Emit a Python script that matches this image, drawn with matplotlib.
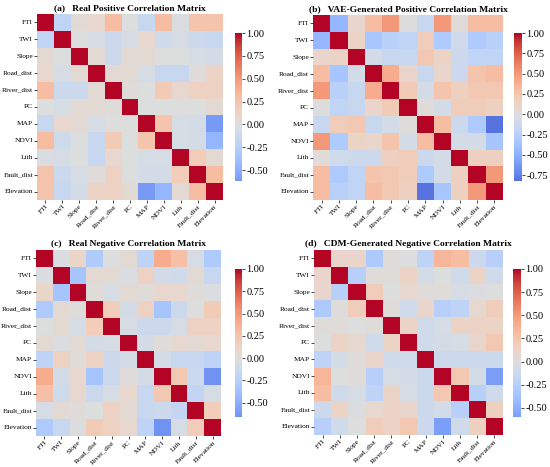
import numpy as np
import matplotlib
matplotlib.use("Agg")
import matplotlib.pyplot as plt
import seaborn as sns

plt.rcParams['font.family'] = ['Liberation Serif', 'DejaVu Serif']

labels = ["FTI", "TWI", "Slope", "Road_dist", "River_dist", "PC", "MAP",
          "NDVI", "Lith", "Fault_dist", "Elevation"]

# upper triangles, row by row (diagonal = 1)
real_pos = [
    [-0.20, 0.05, 0.08, 0.30, 0.00, -0.15, 0.30, -0.03, 0.25, 0.25],
    [0.00, -0.05, -0.12, -0.05, 0.08, -0.10, -0.05, -0.12, -0.15],
    [0.05, -0.12, 0.05, 0.06, 0.00, 0.00, -0.05, -0.07],
    [0.05, 0.05, -0.05, -0.15, -0.15, 0.02, 0.13],
    [0.02, 0.00, 0.20, 0.08, 0.14, 0.14],
    [0.00, 0.00, 0.00, 0.00, 0.05],
    [0.25, -0.05, -0.07, -0.62],
    [-0.05, -0.07, -0.45],
    [0.18, 0.05],
    [0.30],
]
vae_pos = [
    [-0.45, 0.10, 0.30, 0.50, 0.00, -0.15, 0.50, 0.03, 0.30, 0.30],
    [0.12, -0.35, -0.25, -0.20, 0.18, -0.30, -0.10, -0.30, -0.25],
    [-0.08, -0.15, -0.15, 0.22, 0.12, -0.12, -0.20, -0.20],
    [0.40, 0.10, -0.15, 0.10, -0.12, 0.25, 0.30],
    [0.20, -0.08, 0.25, 0.15, 0.22, 0.22],
    [0.02, -0.07, 0.18, 0.18, 0.15],
    [0.30, -0.12, -0.30, -0.82],
    [-0.08, -0.08, -0.35],
    [0.15, 0.15],
    [0.50],
]
real_neg = [
    [-0.02, 0.10, -0.30, 0.00, 0.05, -0.20, 0.40, 0.28, -0.05, -0.30],
    [-0.35, 0.05, 0.05, -0.03, 0.15, -0.07, -0.10, 0.05, -0.15],
    [0.02, -0.05, 0.05, 0.02, 0.08, 0.08, 0.02, -0.02],
    [0.18, -0.07, 0.15, -0.35, -0.12, 0.00, 0.20],
    [-0.05, -0.12, -0.12, -0.05, 0.15, 0.15],
    [-0.07, 0.02, 0.08, 0.05, 0.08],
    [-0.07, -0.15, -0.15, -0.20],
    [0.22, -0.12, -0.66],
    [-0.18, -0.05],
    [0.18],
]
cdm_neg = [
    [0.10, 0.10, -0.30, 0.02, 0.00, -0.20, 0.35, 0.30, -0.12, -0.25],
    [-0.25, 0.02, 0.02, 0.12, -0.07, 0.00, -0.10, 0.12, -0.10],
    [0.18, 0.00, 0.08, 0.02, 0.02, -0.05, -0.02, 0.00],
    [0.02, -0.10, 0.10, -0.25, -0.20, 0.08, 0.18],
    [0.12, -0.10, -0.05, 0.12, 0.12, 0.12],
    [-0.10, -0.07, -0.05, 0.10, 0.22],
    [-0.12, -0.12, -0.12, -0.12],
    [0.22, -0.07, -0.60],
    [-0.25, -0.10],
    [0.15],
]

titles = ["(a)   Real Positive Correlation Matrix",
          "(b)   VAE-Generated Positive Correlation Matrix",
          "(c)   Real Negative Correlation Matrix",
          "(d)   CDM-Generated Negative Correlation Matrix"]


def full(tri):
    n = len(tri) + 1
    m = np.eye(n)
    for i, row in enumerate(tri):
        for k, v in enumerate(row):
            m[i, i + 1 + k] = v
            m[i + 1 + k, i] = v
    return m


W, H = 550, 467
fig = plt.figure(figsize=(5.5, 4.67), dpi=100)

# pixel boxes: heatmap (x0, y0, x1, y1), colorbar (x0, y0, x1, y1)
boxes = [
    ((37, 14, 223, 200), (235, 33, 242, 181)),
    ((313, 15, 503, 200), (514, 33, 522, 181)),
    ((36, 250, 221, 436), (235, 269, 242, 417)),
    ((314, 250, 503, 435), (513, 269, 521, 417)),
]


def px(b):
    x0, y0, x1, y1 = b
    return [x0 / W, 1 - y1 / H, (x1 - x0) / W, (y1 - y0) / H]


for tri, title, (hb, cb) in zip([real_pos, vae_pos, real_neg, cdm_neg], titles, boxes):
    ax = fig.add_axes(px(hb))
    cax = fig.add_axes(px(cb))
    sns.heatmap(full(tri), ax=ax, cbar_ax=cax, cmap="coolwarm", center=0,
                xticklabels=labels, yticklabels=labels, square=False)
    ax.set_title(title, fontsize=6.8, fontweight="bold", pad=3)
    ax.tick_params(axis="both", labelsize=5.3, length=2, width=0.5, pad=0.8)
    plt.setp(ax.get_xticklabels(), rotation=45, ha="right", rotation_mode="anchor")
    plt.setp(ax.get_yticklabels(), rotation=0)
    cax.tick_params(labelsize=7.5, length=2, width=0.5, pad=1)
    cax.yaxis.set_major_locator(matplotlib.ticker.MultipleLocator(0.25))
    cax.yaxis.set_major_formatter(matplotlib.ticker.FormatStrFormatter("%.2f"))
    for s in cax.spines.values():
        s.set_visible(False)

fig.savefig("out.png", dpi=100)
